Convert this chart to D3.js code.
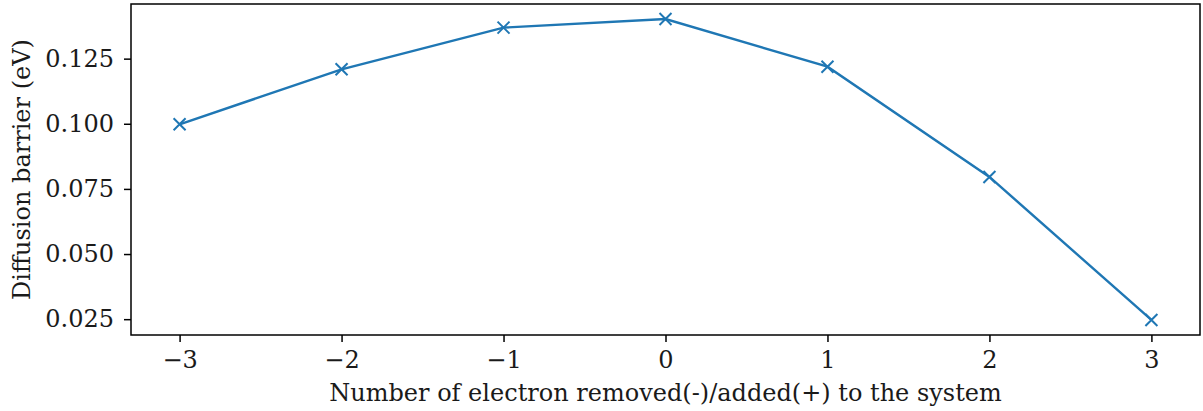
<!DOCTYPE html>
<html>
<head>
<meta charset="utf-8">
<script src="https://cdn.jsdelivr.net/npm/d3@7"></script>
<style>
  body { margin: 0; background: #fff; }
  text { font-family: "DejaVu Serif", serif; }
</style>
</head>
<body>
<svg id="chart" width="1203" height="411"></svg>
<script>
let charges = [-3, -2, -1, 0, 1, 2, 3];
let barriers = [0.0998, 0.1209, 0.1369, 0.1402, 0.1219, 0.0796, 0.0247];
let xTicks = [-3, -2, -1, 0, 1, 2, 3];
let yTicks = [0.025, 0.050, 0.075, 0.100, 0.125];

let margin = { left: 131, right: 3, top: 4, bottom: 76 };
let width = 1203, height = 411;
let svg = d3.select('#chart');
let color = '#1f77b4';
let fontSize = 24;

// matplotlib style 5% padding
let pad = (lo, hi) => { let r = hi - lo; return [lo - r * 0.05, hi + r * 0.05]; };

let x = d3.scaleLinear()
  .domain(pad(d3.min(charges), d3.max(charges)))
  .range([margin.left, width - margin.right]);
let y = d3.scaleLinear()
  .domain(pad(d3.min(barriers), d3.max(barriers)))
  .range([height - margin.bottom, margin.top]);

let data = charges.map((c, i) => ({ c: c, v: barriers[i] }));

let fmtX = (d) => d < 0 ? '\u2212' + Math.abs(d) : String(d);

let xAxis = svg.append('g')
  .attr('transform', `translate(0,${height - margin.bottom})`)
  .call(d3.axisBottom(x).tickValues(xTicks).tickFormat(fmtX).tickSize(7).tickPadding(9).tickSizeOuter(0));
let yAxis = svg.append('g')
  .attr('transform', `translate(${margin.left},0)`)
  .call(d3.axisLeft(y).tickValues(yTicks).tickFormat(d3.format('.3f')).tickSize(7).tickPadding(10).tickSizeOuter(0));

[xAxis, yAxis].forEach((g) => {
  g.select('.domain').remove();
  g.selectAll('line').attr('stroke', '#000').attr('stroke-width', 1.5);
  g.selectAll('text').attr('font-size', fontSize).attr('fill', '#1a1a1a').attr('font-family', 'DejaVu Serif');
});

// frame
svg.append('rect')
  .attr('x', margin.left).attr('y', margin.top)
  .attr('width', width - margin.left - margin.right)
  .attr('height', height - margin.top - margin.bottom)
  .attr('fill', 'none').attr('stroke', '#000').attr('stroke-width', 1.5);

let line = d3.line().x((d) => x(d.c)).y((d) => y(d.v));
svg.append('path')
  .datum(data)
  .attr('d', line)
  .attr('fill', 'none')
  .attr('stroke', color)
  .attr('stroke-width', 2.4);

let s = 6;
svg.selectAll('.mark')
  .data(data)
  .enter()
  .append('path')
  .attr('class', 'mark')
  .attr('d', (d) => {
    let cx = x(d.c), cy = y(d.v);
    return `M${cx - s},${cy - s}L${cx + s},${cy + s}M${cx - s},${cy + s}L${cx + s},${cy - s}`;
  })
  .attr('stroke', color)
  .attr('stroke-width', 2);

svg.append('text')
  .attr('x', (margin.left + width - margin.right) / 2)
  .attr('y', 401)
  .attr('text-anchor', 'middle')
  .attr('font-size', fontSize)
  .attr('fill', '#1a1a1a')
  .text('Number of electron removed(-)/added(+) to the system');

svg.append('text')
  .attr('transform', `translate(30,${(margin.top + height - margin.bottom) / 2}) rotate(-90)`)
  .attr('text-anchor', 'middle')
  .attr('font-size', fontSize)
  .attr('fill', '#1a1a1a')
  .text('Diffusion barrier (eV)');
</script>
</body>
</html>
